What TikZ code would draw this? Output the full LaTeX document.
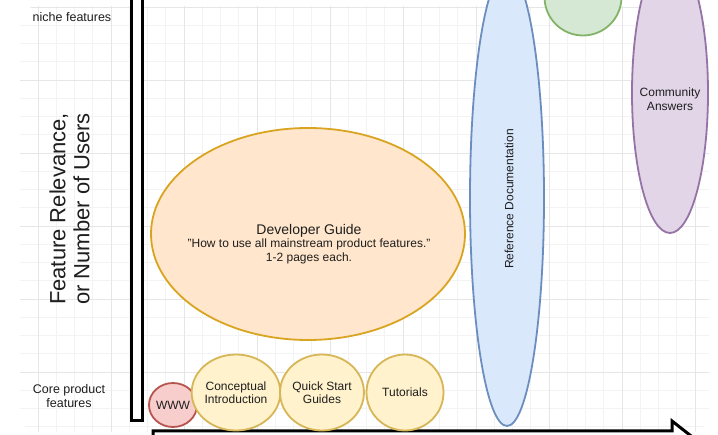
\documentclass[tikz,border=0pt]{standalone}
\usepackage{fontspec}
\setmainfont{Liberation Sans}
\usetikzlibrary{shapes.geometric}
\definecolor{ylfill}{HTML}{FFF2CC}
\definecolor{yldraw}{HTML}{D6B656}
\definecolor{orfill}{HTML}{FFE6CC}
\definecolor{ordraw}{HTML}{D9A520}
\definecolor{rdfill}{HTML}{F8CECC}
\definecolor{rddraw}{HTML}{B85450}
\definecolor{blfill}{HTML}{DAE8FC}
\definecolor{bldraw}{HTML}{6C8EBF}
\definecolor{gnfill}{HTML}{D5E8D4}
\definecolor{gndraw}{HTML}{82B366}
\definecolor{pufill}{HTML}{E1D5E7}
\definecolor{pudraw}{HTML}{9673A6}
\definecolor{gridminor}{HTML}{F3F3F3}
\definecolor{gridmajor}{HTML}{E6E6E6}
\definecolor{txt}{HTML}{1E1E1E}
\begin{document}
\begin{tikzpicture}[x=1pt,y=-1pt,
  every node/.style={text=txt, font=\fontsize{12}{13.5}\selectfont, align=center, inner sep=0pt},
  blob/.style={ellipse, line width=1.8pt},
  yel/.style={blob, draw=yldraw, fill=ylfill, minimum width=80pt, minimum height=76pt},
  org/.style={blob, draw=ordraw, fill=orfill},
  red/.style={blob, draw=rddraw, fill=rdfill, minimum size=44pt},
  blu/.style={blob, draw=bldraw, fill=blfill},
  grn/.style={blob, draw=gndraw, fill=gnfill},
  pur/.style={blob, draw=pudraw, fill=pufill},
  axisline/.style={line width=3pt, draw=black, fill=white, line join=miter},
  biglbl/.style={font=\fontsize{22}{24}\selectfont}
]
\useasboundingbox (0,0) rectangle (718,435);
\clip (0,0) rectangle (718,435);
\fill[white] (0,0) rectangle (718,435);
\begin{scope}
  \clip[rounded corners=18pt] (20,6) rectangle (709,432);
  \foreach \i in {0,...,39} \draw[gridminor, line width=0.7pt] ({1.5+\i*18.25},0) -- ++(0,435);
  \foreach \j in {0,...,23} \draw[gridminor, line width=0.7pt] (0,{7+\j*18.25}) -- ++(718,0);
  \foreach \i in {0,...,9} \draw[gridmajor, line width=0.8pt] ({38+\i*73},0) -- ++(0,435);
  \foreach \j in {0,...,5} \draw[gridmajor, line width=0.8pt] (0,{7+\j*73}) -- ++(718,0);
\end{scope}

% axes (block arrows)
\draw[axisline] (131,-30) -- (131,421) -- (142.5,421) -- (142.5,-30);
\draw[axisline] (153,449) -- (153,431) -- (672,431) -- (672,421) -- (693,437.5) -- (672,454) -- (672,444) -- (153,444) -- cycle;

% axis labels
\node[biglbl, rotate=90] (ylab) at (69.5,209) {Feature Relevance,\\or Number of Users};
\node[font=\fontsize{12.5}{14}\selectfont] (niche) at (72,17) {niche features};
\node[font=\fontsize{12.5}{14}\selectfont] (core) at (69,396) {Core product\\features};

% shapes
\node[grn, minimum size=77pt] (green) at (583,-3) {};
\node[blu, minimum width=74pt, minimum height=456pt] (ref) at (507,198) {};
\node[rotate=90] (reftxt) at (509,199) {Reference Documentation};
\node[pur, minimum width=76pt, minimum height=280pt] (comm) at (670,93) {};
\node (commtxt) at (670,99) {Community\\Answers};
\node[org, minimum width=314pt, minimum height=212pt] (dev) at (308,234) {};
\node (devtxt) at (309,244) {{\fontsize{14}{16}\selectfont Developer Guide}\\"How to use all mainstream product features."\\1-2 pages each.};
\node[red] (www) at (173,405) {WWW};
\node[yel] (concept) at (236,392.5) {Conceptual\\Introduction};
\node[yel] (quick) at (322,392.5) {Quick Start\\Guides};
\node[yel, minimum width=77pt] (tut) at (405,392.5) {Tutorials};
\end{tikzpicture}
\end{document}
